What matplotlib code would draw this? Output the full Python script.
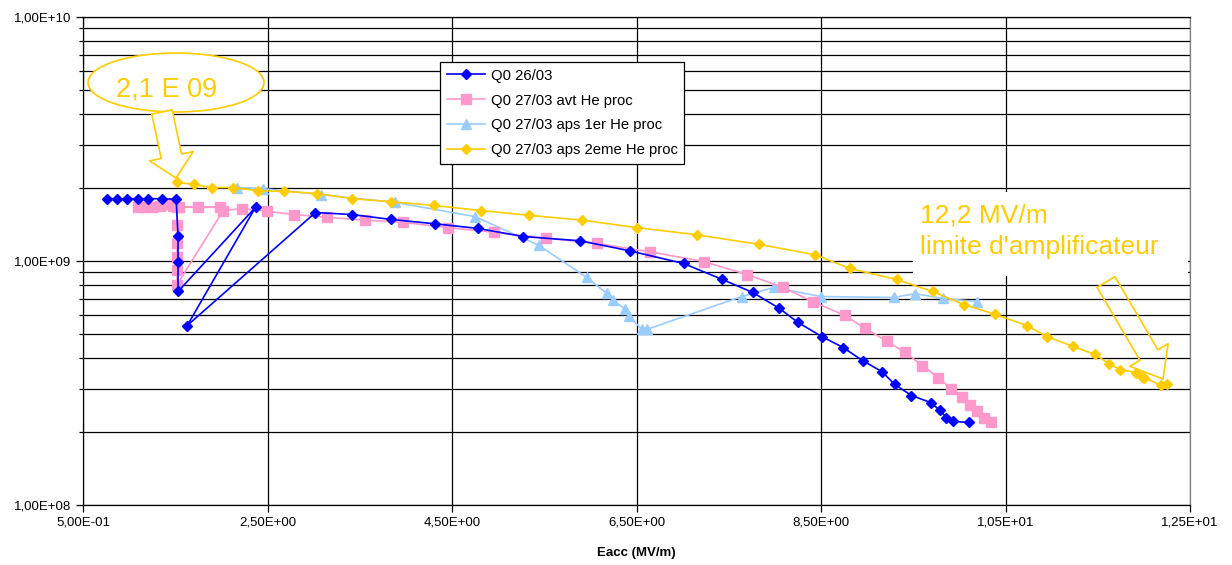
import matplotlib
matplotlib.use("Agg")
import matplotlib.pyplot as plt
from matplotlib.ticker import FuncFormatter, LogLocator, FixedLocator, NullFormatter
from matplotlib.patches import Ellipse, Rectangle, FancyArrowPatch, ArrowStyle

plt.rcParams['font.family'] = ['Liberation Sans', 'DejaVu Sans']

# ---------------- data ----------------
x_2603 = [0.76, 0.87, 0.98, 1.10, 1.21, 1.36, 1.51, 1.53, 1.53, 1.53, 2.37, 1.63, 3.02, 3.42, 3.84,
          4.32, 4.78, 5.27, 5.89, 6.43, 7.01, 7.43, 7.76, 8.05, 8.25, 8.51, 8.74, 8.95, 9.16, 9.30,
          9.48, 9.69, 9.79, 9.86, 9.93, 10.10]
q_2603 = [1.80e9, 1.80e9, 1.80e9, 1.80e9, 1.80e9, 1.80e9, 1.79e9, 1.27e9, 9.9e8, 7.5e8, 1.66e9, 5.44e8,
          1.58e9, 1.55e9, 1.48e9, 1.42e9, 1.36e9, 1.26e9, 1.21e9, 1.10e9, 9.77e8, 8.4e8, 7.43e8, 6.39e8,
          5.6e8, 4.9e8, 4.42e8, 3.91e8, 3.52e8, 3.12e8, 2.81e8, 2.63e8, 2.44e8, 2.28e8, 2.20e8, 2.18e8]

x_2703_avt = [1.10, 1.17, 1.25, 1.33, 1.40, 1.48, 1.54, 1.75, 1.98, 1.52, 1.52, 1.52, 1.52, 1.52, 1.52,
              2.02, 2.22, 2.49, 2.79, 3.15, 3.56, 3.97, 4.46, 4.96, 5.52, 6.07, 6.65, 7.23, 7.70, 8.09,
              8.41, 8.76, 8.98, 9.22, 9.41, 9.60, 9.77, 9.91, 10.03, 10.11, 10.19, 10.27, 10.34]
q_2703_avt = [1.67e9, 1.67e9, 1.67e9, 1.68e9, 1.72e9, 1.68e9, 1.67e9, 1.66e9, 1.66e9, 1.67e9, 1.41e9,
              1.19e9, 1.04e9, 9.15e8, 8.0e8, 1.61e9, 1.64e9, 1.60e9, 1.55e9, 1.51e9, 1.47e9, 1.44e9,
              1.37e9, 1.31e9, 1.24e9, 1.18e9, 1.09e9, 9.95e8, 8.8e8, 7.79e8, 6.82e8, 5.98e8, 5.29e8,
              4.68e8, 4.22e8, 3.73e8, 3.33e8, 3.00e8, 2.76e8, 2.56e8, 2.42e8, 2.28e8, 2.18e8]

x_2703_aps1 = [2.17, 2.45, 3.08, 3.88, 4.75, 5.44, 5.96, 6.18, 6.25, 6.37, 6.42, 6.56, 6.61, 7.64, 7.99,
               8.50, 9.29, 9.52, 9.82, 10.19]
q_2703_aps1 = [2.00e9, 1.98e9, 1.87e9, 1.74e9, 1.52e9, 1.16e9, 8.56e8, 7.36e8, 6.89e8, 6.38e8, 5.93e8,
               5.24e8, 5.24e8, 7.15e8, 7.79e8, 7.15e8, 7.09e8, 7.35e8, 7.02e8, 6.82e8]

x_2703_aps2 = [1.52, 1.70, 1.90, 2.13, 2.40, 2.68, 3.04, 3.42, 3.84, 4.30, 4.81, 5.33, 5.91, 6.51, 7.16,
               7.83, 8.44, 8.81, 9.32, 9.71, 10.05, 10.39, 10.73, 10.95, 11.23, 11.47, 11.62, 11.74,
               11.92, 11.98, 12.00, 12.19, 12.25]
q_2703_aps2 = [2.10e9, 2.06e9, 2.00e9, 2.00e9, 1.94e9, 1.93e9, 1.89e9, 1.80e9, 1.75e9, 1.69e9, 1.61e9,
               1.54e9, 1.47e9, 1.37e9, 1.28e9, 1.17e9, 1.06e9, 9.32e8, 8.4e8, 7.5e8, 6.63e8, 6.04e8,
               5.44e8, 4.9e8, 4.47e8, 4.14e8, 3.8e8, 3.59e8, 3.49e8, 3.36e8, 3.33e8, 3.09e8, 3.12e8]

labels = ["Q0 26/03", "Q0 27/03 avt He proc", "Q0 27/03 aps 1er He proc", "Q0 27/03 aps 2eme He proc"]
x_ticks = [0.5, 2.5, 4.5, 6.5, 8.5, 10.5, 12.5]
x_label = "Eacc (MV/m)"
note_left = "2,1 E 09"
note_right_1 = "12,2 MV/m"
note_right_2 = "limite d'amplificateur"

# ---------------- figure ----------------
W, H = 1232, 565
fig = plt.figure(figsize=(W / 100, H / 100), dpi=100)
L, R, T, B = 83, 1190, 17, 505
ax = fig.add_axes([L / W, 1 - B / H, (R - L) / W, (B - T) / H])

def ax_xy(px, py):
    return ((px - L) / (R - L), 1 - (py - T) / (B - T))

YEL = '#FFCC00'
ax.plot(x_2603, q_2603, color='#0000FF', marker='D', markersize=4.8, lw=1.2, label=labels[0], zorder=5)
ax.plot(x_2703_avt, q_2703_avt, color='#FF99CC', marker='s', markersize=6.5, lw=1.2, label=labels[1], zorder=4)
ax.plot(x_2703_aps1, q_2703_aps1, color='#99CCFF', marker='^', markersize=7.5, lw=1.2, label=labels[2], zorder=3)
ax.plot(x_2703_aps2, q_2703_aps2, color=YEL, marker='D', markersize=5.2, lw=1.2, label=labels[3], zorder=6)

ax.set_yscale('log')
ax.set_ylim(1e8, 1e10)
ax.set_xlim(0.5, 12.5)
ax.xaxis.set_major_locator(FixedLocator(x_ticks))
fmt = FuncFormatter(lambda v, p: ('%.2E' % v).replace('.', ','))
ax.xaxis.set_major_formatter(fmt)
ax.yaxis.set_major_locator(LogLocator(base=10, numticks=10))
ax.yaxis.set_major_formatter(fmt)
ax.yaxis.set_minor_locator(LogLocator(base=10, subs=range(2, 10), numticks=20))
ax.yaxis.set_minor_formatter(NullFormatter())

ax.set_axisbelow(True)
ax.grid(True, which='major', axis='x', color='black', lw=0.9)
ax.grid(True, which='both', axis='y', color='black', lw=0.9)
for s in ax.spines.values():
    s.set_color('black')
    s.set_linewidth(0.9)
ax.spines['right'].set_color('#808080')
ax.tick_params(axis='both', which='major', labelsize=9.5, length=5, width=0.9, color='black', direction='out')
ax.tick_params(axis='y', which='minor', length=3, width=0.9)
ax.set_xlabel(x_label, fontsize=9.5, fontweight='bold', labelpad=13)

leg = ax.legend(loc='upper left', bbox_to_anchor=ax_xy(440, 62), borderaxespad=0, fontsize=10.7,
                frameon=True, fancybox=False, edgecolor='black', framealpha=1,
                handlelength=2.6, labelspacing=0.73, borderpad=0.45, handletextpad=0.35)
leg.get_frame().set_linewidth(0.9)

# left annotation: ellipse + arrow
cx, cy = ax_xy(176, 82.5)
ew = 176 / (R - L)
eh = 59 / (B - T)
ell = Ellipse((cx, cy), ew, eh, transform=ax.transAxes, facecolor='white', edgecolor=YEL, lw=1.2, zorder=7)
ax.add_patch(ell)
tx, ty = ax_xy(167, 97)
ax.text(tx, ty, note_left, transform=ax.transAxes, color=YEL, fontsize=19.5, ha='center', va='baseline', zorder=8)

arr_style = ArrowStyle.Simple(head_length=16, head_width=32, tail_width=15)
a1 = FancyArrowPatch(ax_xy(162, 112), ax_xy(176, 178), transform=ax.transAxes, arrowstyle=arr_style,
                     mutation_scale=1, facecolor='white', edgecolor=YEL, lw=1.2, shrinkA=0, shrinkB=0, zorder=7)
ax.add_patch(a1)

# right annotation: white box with text + arrow
bx0, by1 = ax_xy(913, 192)
bx1, by0 = ax_xy(1188, 276)
ax.add_patch(Rectangle((bx0, by0), bx1 - bx0, by1 - by0, transform=ax.transAxes,
                       facecolor='white', edgecolor='none', zorder=1.5))
t1x, t1y = ax_xy(920, 223)
ax.text(t1x, t1y, note_right_1, transform=ax.transAxes, color=YEL, fontsize=19, ha='left', va='baseline', zorder=8)
t2x, t2y = ax_xy(920, 254)
ax.text(t2x, t2y, note_right_2, transform=ax.transAxes, color=YEL, fontsize=19, ha='left', va='baseline', zorder=8)

arr_style2 = ArrowStyle.Simple(head_length=20, head_width=32, tail_width=15)
a2 = FancyArrowPatch(ax_xy(1106, 282), ax_xy(1163, 379), transform=ax.transAxes, arrowstyle=arr_style2,
                     mutation_scale=1, facecolor='none', edgecolor=YEL, lw=1.2, shrinkA=0, shrinkB=0, zorder=7)
ax.add_patch(a2)

fig.savefig('out.png', dpi=100)
